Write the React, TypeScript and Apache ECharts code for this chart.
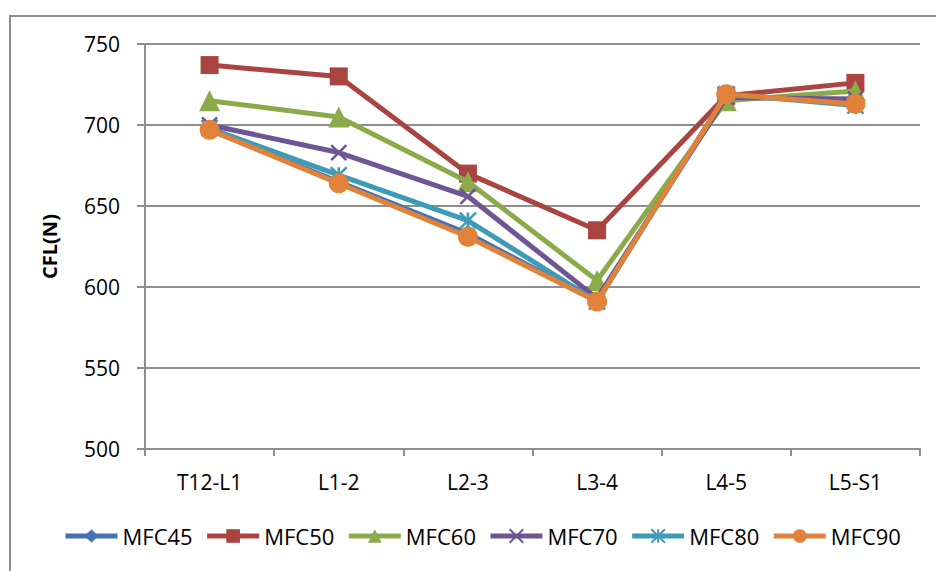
import React, { useEffect, useRef } from "react";
import * as echarts from "echarts";

const categories = ["T12-L1", "L1-2", "L2-3", "L3-4", "L4-5", "L5-S1"];
const seriesNames = ["MFC45", "MFC50", "MFC60", "MFC70", "MFC80", "MFC90"];
const mfc45 = [697, 665, 633, 591, 719, 713];
const mfc50 = [737, 730, 670, 635, 718, 726];
const mfc60 = [715, 705, 665, 604, 715, 721];
const mfc70 = [700, 683, 656, 593, 717, 716];
const mfc80 = [698, 669, 641, 591, 719, 712];
const mfc90 = [697, 664, 631, 591, 719, 713];
const yTicks = [500, 550, 600, 650, 700, 750];

const colors = ["#4373B0", "#AA4440", "#8BAA4A", "#6F5594", "#3E9BB7", "#E1823A"];
const symbols = [
  "diamond",
  "rect",
  "triangle",
  "path://M0,0L10,10M10,0L0,10",
  "path://M5,0L5,10M0,0L10,10M10,0L0,10",
  "circle",
];
const symbolSizes = [18, 18, 21, 15, 16, 20];
const FONT = "'Open Sans', 'Liberation Sans', sans-serif";

export default function App() {
  const ref = useRef<HTMLDivElement>(null);
  useEffect(() => {
    if (!ref.current) return;
    const chart = echarts.init(ref.current, undefined, { renderer: "svg" });
    const dataSets = [mfc45, mfc50, mfc60, mfc70, mfc80, mfc90];
    const series = seriesNames.map((name, i) => {
      const isStroke = i === 3 || i === 4;
      return {
        name,
        type: "line",
        data: dataSets[i],
        symbol: symbols[i],
        symbolSize: symbolSizes[i],
        showAllSymbol: true,
        lineStyle: { color: colors[i], width: 5 },
        itemStyle: {
          color: colors[i],
          borderColor: colors[i],
          borderWidth: isStroke ? 2.5 : 0,
          opacity: 1,
        },
        emphasis: { disabled: true },
        z: 2 + i,
      };
    });
    chart.setOption({
      animation: false,
      color: colors,
      textStyle: { fontFamily: FONT },
      graphic: [
        {
          type: "rect",
          shape: { x: 10, y: 16, width: 960, height: 600 },
          style: { fill: "none", stroke: "#8e8e8e", lineWidth: 2 },
          silent: true,
        },
      ],
      grid: { left: 145, right: 16, top: 44, bottom: 122, containLabel: false },
      legend: {
        left: 63,
        top: 525,
        padding: 0,
        itemWidth: 52,
        itemHeight: 17,
        itemGap: 12,
        data: seriesNames,
        lineStyle: { width: 5 },
        textStyle: { fontSize: 22, color: "#000", fontFamily: FONT },
      },
      xAxis: {
        type: "category",
        data: categories,
        boundaryGap: true,
        axisLine: { show: true, lineStyle: { color: "#8e8e8e", width: 2 } },
        axisTick: { show: true, length: 7, alignWithLabel: false, lineStyle: { color: "#8e8e8e", width: 2 } },
        axisLabel: { fontSize: 21, color: "#000", margin: 22, fontFamily: FONT },
        splitLine: { show: false },
      },
      yAxis: {
        type: "value",
        min: 500,
        max: 750,
        interval: 50,
        name: "CFL(N)",
        nameLocation: "middle",
        nameRotate: 90,
        nameGap: 86,
        nameTextStyle: { fontSize: 20, fontWeight: "bold", color: "#000", fontFamily: FONT },
        axisLine: { show: true, lineStyle: { color: "#8e8e8e", width: 2 } },
        axisTick: { show: true, length: 8, lineStyle: { color: "#8e8e8e", width: 2 } },
        axisLabel: {
          fontSize: 21,
          color: "#000",
          margin: 25,
          fontFamily: FONT,
          formatter: (v: number) => (yTicks.includes(v) ? String(v) : ""),
        },
        splitLine: { show: true, lineStyle: { color: "#8e8e8e", width: 2 } },
      },
      series,
    });
    return () => chart.dispose();
  }, []);
  return (
    <div
      ref={ref}
      style={{ position: "fixed", left: 0, top: 0, width: 936, height: 571, background: "#fff" }}
    />
  );
}
